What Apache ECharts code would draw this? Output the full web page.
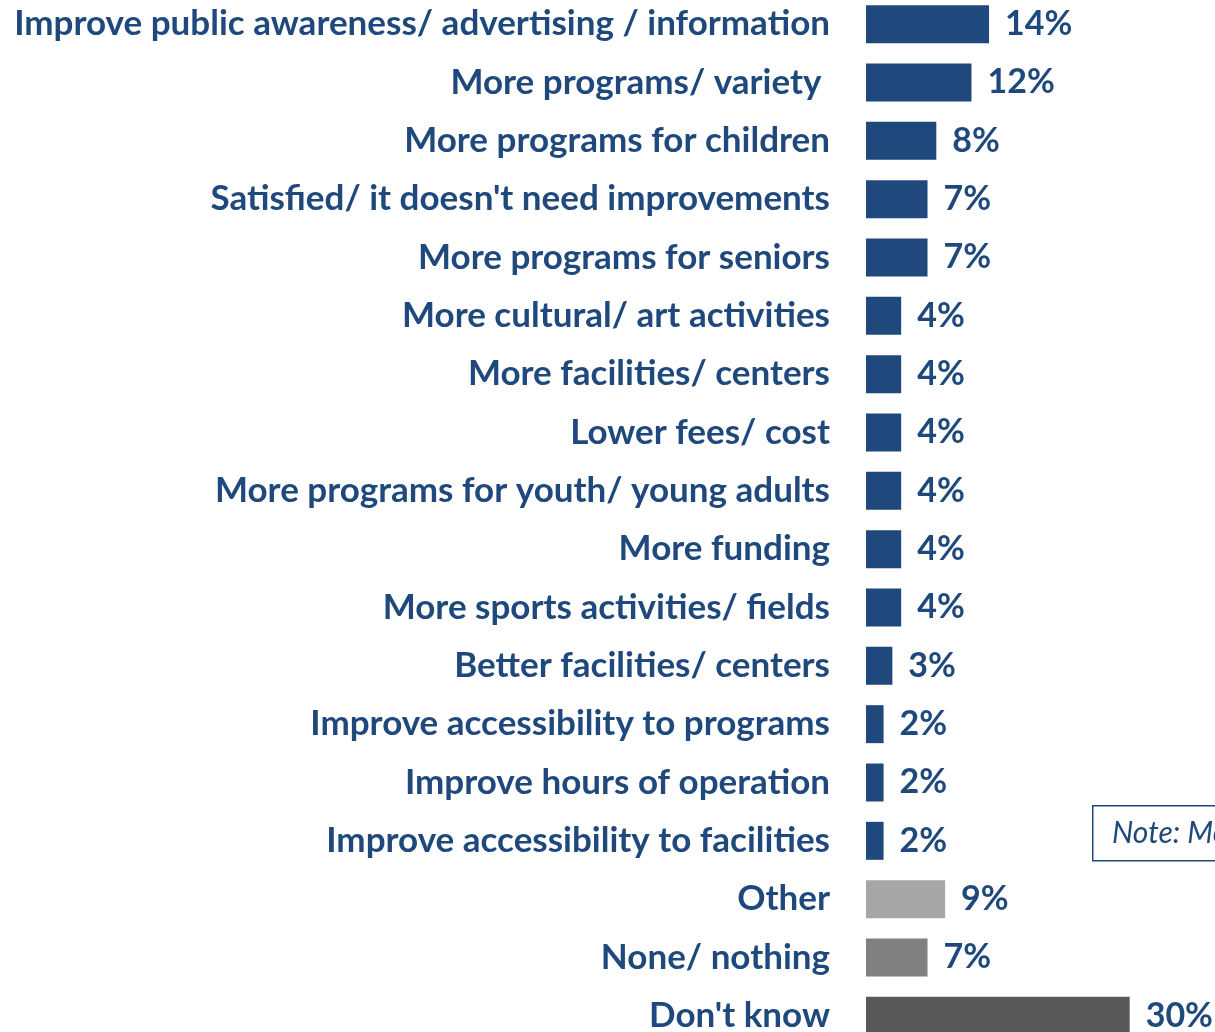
<!DOCTYPE html>
<html lang="en">
<head>
    <meta charset="UTF-8">
    <title>Suggested improvements</title>
    <script src="https://cdn.jsdelivr.net/npm/echarts@6/dist/echarts.min.js"></script>
    <style>
        html, body { margin: 0; padding: 0; background: #fff; }
    </style>
</head>
<body>
    <div id="main" style="width: 1215px;height: 1032px"></div>
    <script type="text/javascript">
        // categories, top to bottom
        var categories = [
            "Improve public awareness/ advertising / information",
            "More programs/ variety ",
            "More programs for children",
            "Satisfied/ it doesn't need improvements",
            "More programs for seniors",
            "More cultural/ art activities",
            "More facilities/ centers",
            "Lower fees/ cost",
            "More programs for youth/ young adults",
            "More funding",
            "More sports activities/ fields",
            "Better facilities/ centers",
            "Improve accessibility to programs",
            "Improve hours of operation",
            "Improve accessibility to facilities",
            "Other",
            "None/ nothing",
            "Don't know"
        ];
        var percents = [14, 12, 8, 7, 7, 4, 4, 4, 4, 4, 4, 3, 2, 2, 2, 9, 7, 30];
        var barColors = [
            "#1F497D", "#1F497D", "#1F497D", "#1F497D", "#1F497D", "#1F497D",
            "#1F497D", "#1F497D", "#1F497D", "#1F497D", "#1F497D", "#1F497D",
            "#1F497D", "#1F497D", "#1F497D", "#A6A6A6", "#808080", "#595959"
        ];
        var noteText = "Note: Mentions add to more than 100%";

        var textBlue = "#1F497D";
        var font = "Lato, 'Open Sans', sans-serif";

        var myChart = echarts.init(document.getElementById('main'));

        var option = {
            backgroundColor: '#fff',
            animation: false,
            grid: {
                left: 866,
                right: 15,
                top: -5,
                height: 1050,
                outerBoundsMode: 'none'
            },
            xAxis: {
                type: 'value',
                min: 0,
                max: 38,
                show: false
            },
            yAxis: {
                type: 'category',
                inverse: true,
                data: categories,
                axisLine: { show: false },
                axisTick: { show: false },
                axisLabel: {
                    margin: 36,
                    color: textBlue,
                    fontFamily: font,
                    fontWeight: 'bold',
                    fontSize: 35
                }
            },
            series: [{
                type: 'bar',
                barWidth: 38,
                data: percents.map(function (v, i) {
                    return { value: v, itemStyle: { color: barColors[i] } };
                }),
                label: {
                    show: true,
                    position: 'right',
                    distance: 16,
                    color: textBlue,
                    fontFamily: font,
                    fontWeight: 'bold',
                    fontSize: 34,
                    formatter: '{c}%'
                }
            }],
            graphic: [{
                type: 'rect',
                left: 1092,
                top: 805,
                shape: { width: 400, height: 55 },
                style: { fill: '#fff', stroke: textBlue, lineWidth: 1.5 }
            }, {
                type: 'text',
                left: 1112,
                top: 818,
                style: {
                    text: noteText,
                    fill: textBlue,
                    font: 'italic 30px ' + font
                }
            }]
        };
        myChart.setOption(option);
    </script>
</body>
</html>
